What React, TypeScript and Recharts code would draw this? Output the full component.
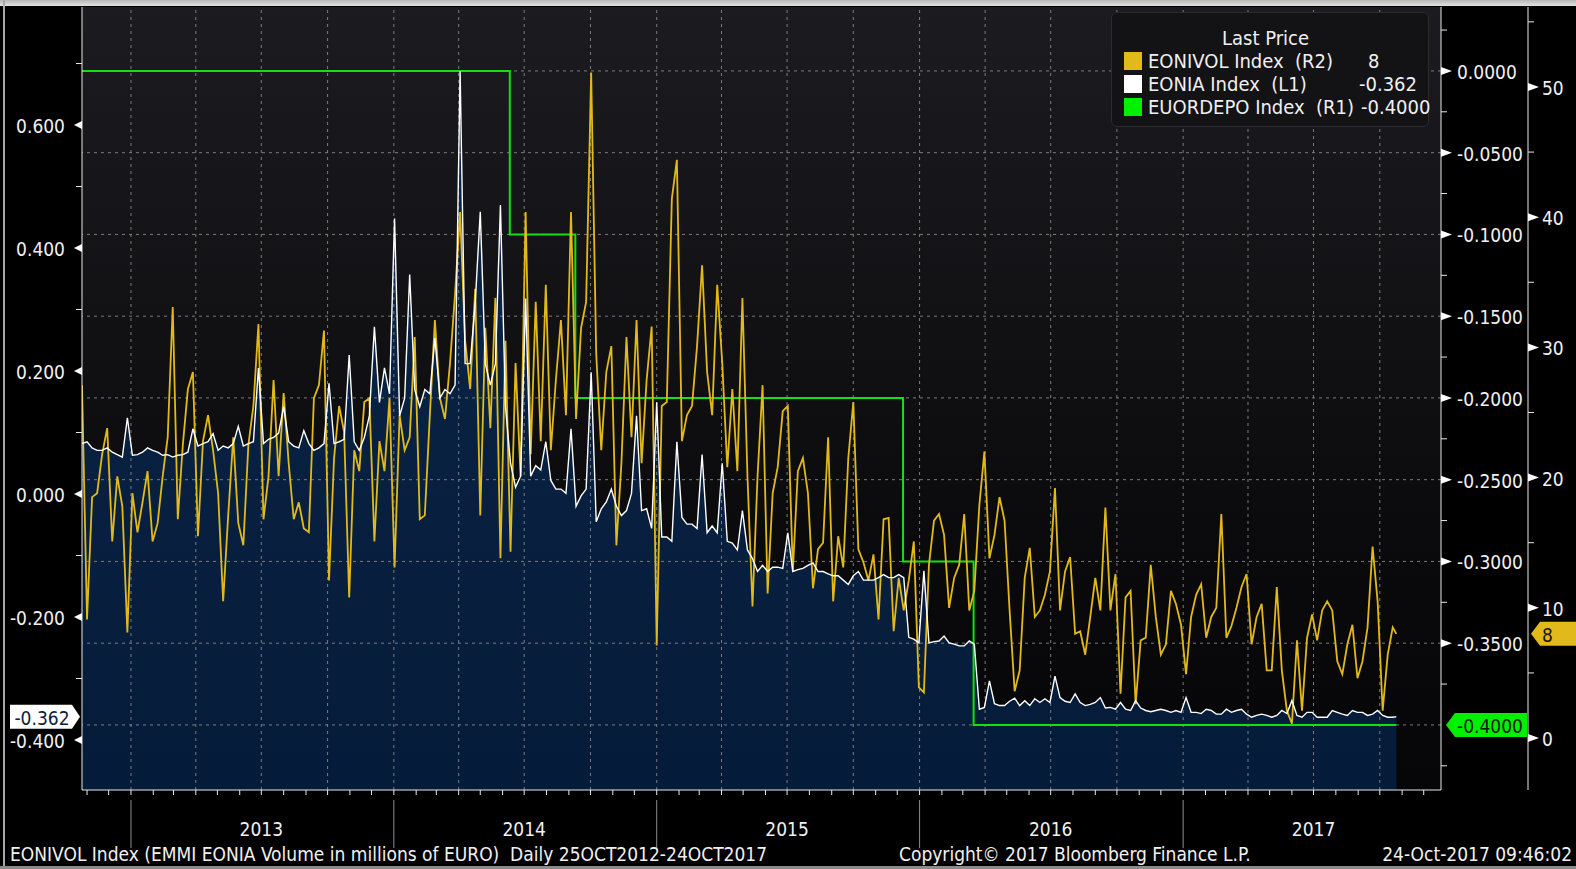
import React from "react";
import { Area, ComposedChart, CartesianGrid, Line, ReferenceLine, XAxis, YAxis } from "recharts";

const DAY = 86400000;
const START = Date.UTC(2012, 9, 25);
const END = Date.UTC(2017, 9, 24);
const X_MAX = Date.UTC(2017, 11, 25);

// weekly readings, 25 Oct 2012 .. 24 Oct 2017 (last entry = 24 Oct)
const eoniaValues = [
  0.082, 0.085, 0.075, 0.071, 0.071, 0.075, 0.068, 0.064, 0.06, 0.124,
  0.063, 0.064, 0.068, 0.075, 0.071, 0.068, 0.063, 0.064, 0.06, 0.063,
  0.064, 0.068, 0.106, 0.078, 0.082, 0.085, 0.098, 0.071, 0.078, 0.075,
  0.082, 0.11, 0.078, 0.082, 0.085, 0.205, 0.082, 0.089, 0.092, 0.099,
  0.142, 0.085, 0.078, 0.075, 0.103, 0.082, 0.071, 0.075, 0.082, 0.18,
  0.082, 0.085, 0.089, 0.226,
  0.085, 0.071, 0.092, 0.127, 0.272, 0.149, 0.205, 0.163, 0.448, 0.127,
  0.156, 0.357, 0.17, 0.142, 0.17, 0.163, 0.254, 0.156, 0.17, 0.163,
  0.177, 0.688, 0.212, 0.212, 0.311, 0.459, 0.212, 0.177, 0.212, 0.47,
  0.142, 0.05, 0.011, 0.029, 0.318, 0.029, 0.046, 0.039, 0.085, 0.022,
  0.008, 0.008, 0.001, 0.106, -0.02, -0.003, 0.008, 0.198, -0.045, -0.024,
  -0.013, 0.008,
  -0.02, -0.035, -0.027, 0.001, 0.127, -0.027, -0.024, -0.056, 0.149, -0.07,
  -0.07, -0.077, 0.085, -0.038, -0.049, -0.049, -0.056, 0.064, -0.063, -0.052,
  -0.063, 0.05, -0.077, -0.08, -0.091, -0.027, -0.091, -0.105, -0.126, -0.116,
  -0.126, -0.119, -0.119, -0.121, -0.063, -0.126, -0.123, -0.121, -0.116, -0.112,
  -0.126, -0.126, -0.13, -0.133, -0.133, -0.14, -0.147, -0.133, -0.126, -0.14,
  -0.14, -0.14,
  -0.136, -0.131, -0.136, -0.136, -0.131, -0.136, -0.233, -0.236, -0.242, -0.125,
  -0.242, -0.24, -0.239, -0.231, -0.242, -0.244, -0.247, -0.247, -0.239, -0.244,
  -0.35, -0.347, -0.304, -0.341, -0.344, -0.344, -0.337, -0.332, -0.344, -0.336,
  -0.344, -0.333, -0.339, -0.333, -0.339, -0.296, -0.331, -0.337, -0.339, -0.325,
  -0.339, -0.344, -0.342, -0.339, -0.331, -0.348, -0.347, -0.35, -0.339, -0.35,
  -0.352,
  -0.336, -0.348, -0.352, -0.354, -0.352, -0.35, -0.352, -0.355, -0.352, -0.355,
  -0.331, -0.355, -0.355, -0.357, -0.35, -0.352, -0.358, -0.358, -0.35, -0.355,
  -0.352, -0.35, -0.358, -0.363, -0.36, -0.358, -0.36, -0.363, -0.36, -0.352,
  -0.357, -0.336, -0.36, -0.363, -0.355, -0.355, -0.363, -0.363, -0.363, -0.352,
  -0.355, -0.358, -0.36, -0.352, -0.355, -0.355, -0.36, -0.358, -0.352, -0.36,
  -0.363, -0.363,
  -0.362,
];

const eonivolValues = [
  27.1, 9.1, 18.5, 18.8, 21.8, 23.8, 15.1, 20.1, 17.8, 8.1,
  18.8, 15.8, 18.1, 20.5, 15.1, 16.5, 20.1, 23.1, 33.1, 16.8,
  22.5, 26.8, 28.1, 15.5, 22.8, 24.8, 22.1, 18.8, 10.5, 17.1,
  23.1, 16.5, 14.8, 22.5, 25.5, 31.8, 16.8, 20.1, 27.5, 20.1,
  26.5, 21.1, 16.8, 18.1, 16.1, 15.8, 26.1, 27.1, 31.3, 12.1,
  21.5, 25.5, 23.5, 10.8,
  22.1, 20.5, 25.8, 26.1, 15.1, 22.8, 20.5, 26.1, 13.1, 24.8,
  22.1, 23.1, 30.8, 16.8, 17.1, 24.8, 32.1, 26.1, 24.5, 28.8,
  34.1, 40.4, 30.5, 26.8, 34.5, 17.1, 31.5, 23.8, 33.8, 13.8,
  30.5, 14.3, 28.8, 20.1, 40.4, 21.8, 33.5, 22.8, 34.8, 22.1,
  27.5, 32.1, 24.8, 40.4, 24.5, 31.5, 33.5, 51.1, 29.5, 22.1,
  28.1, 30.1,
  14.8, 21.1, 30.8, 23.1, 32.1, 21.1, 27.5, 31.6, 7.1, 25.5,
  25.8, 41.4, 44.4, 22.8, 24.8, 25.5, 30.1, 36.3, 28.1, 24.8,
  34.8, 28.8, 20.8, 26.8, 20.5, 33.8, 20.1, 10.1, 20.1, 27.1,
  11.1, 18.8, 20.8, 25.1, 25.5, 12.8, 20.5, 21.5, 18.8, 11.5,
  14.5, 15.0, 23.1, 10.5, 15.5, 13.1, 21.5, 25.8, 14.5, 13.5,
  12.1, 14.1,
  9.1, 16.8, 16.9, 8.2, 12.3, 9.8, 12.1, 15.1, 3.9, 3.5,
  13.3, 16.7, 17.2, 15.6, 10.0, 12.3, 13.3, 17.2, 9.8, 11.3,
  17.9, 22.0, 13.8, 15.6, 18.5, 16.7, 9.8, 3.6, 5.2, 12.3,
  14.6, 9.3, 9.8, 11.0, 12.8, 19.2, 9.8, 12.8, 13.9, 8.0,
  8.2, 6.4, 9.3, 12.3, 9.8, 17.7, 9.8, 12.6, 3.4, 10.8,
  11.3,
  2.6, 7.5, 7.7, 13.3, 9.3, 6.4, 7.2, 11.3, 10.3, 8.7,
  4.9, 9.3, 11.0, 11.8, 7.7, 9.3, 10.0, 17.2, 7.7, 8.6,
  10.0, 11.6, 12.6, 7.2, 9.3, 10.3, 5.2, 5.2, 11.6, 5.2,
  2.1, 1.1, 7.5, 2.1, 7.7, 9.5, 7.5, 9.8, 10.5, 9.8,
  5.9, 4.9, 7.2, 8.7, 4.6, 5.9, 8.5, 14.7, 10.5, 2.1,
  6.4, 8.5,
  8,
];

const depoDates = ["2012-10-25", "2014-06-11", "2014-09-10", "2015-12-09", "2016-03-16", "2017-10-24"];
const depoValues = [0, -0.1, -0.2, -0.3, -0.4, -0.4];

const yearLabels = ["2013", "2014", "2015", "2016", "2017"];
const leftMajor = [0.6, 0.4, 0.2, 0, -0.2, -0.4];
const leftMinor = [0.7, 0.5, 0.3, 0.1, -0.1, -0.3];
const depoMajor = [0, -0.05, -0.1, -0.15, -0.2, -0.25, -0.3, -0.35, -0.4];
const depoMinor = [0.025, -0.025, -0.075, -0.125, -0.175, -0.225, -0.275, -0.325, -0.375, -0.425];
const volMajor = [0, 10, 20, 30, 40, 50];
const volMinor = [5, 15, 25, 35, 45, 55];

const LAST_EONIA = -0.362;
const LAST_DEPO = -0.4;
const LAST_VOL = 8;

const YELLOW = "#e2b91b";
const GREEN = "#12e012";
const FONT = "'Liberation Sans Narrow', 'DejaVu Sans Condensed', 'Arial Narrow', sans-serif";
const TXT = "#f0f0f0";

const data = eoniaValues.map((v, i) => ({
  t: i === eoniaValues.length - 1 ? END : START + i * 7 * DAY,
  eonia: v,
  eonivol: eonivolValues[i],
}));

const depoData = depoDates.map((d, i) => ({ t: Date.parse(d + "T00:00:00Z"), depo: depoValues[i] }));

const monthTicks: number[] = [];
for (let y = 2012; y <= 2017; y++) {
  for (let m = 0; m < 12; m++) {
    const t = Date.UTC(y, m, 1);
    if (t > START && t < X_MAX) monthTicks.push(t);
  }
}
const quarterTicks = monthTicks.filter((t) => new Date(t).getUTCMonth() % 3 === 0);

const near = (a: number, b: number) => Math.abs(a - b) < 1e-7;
const has = (list: number[], v: number) => list.some((m) => near(m, v));

const textStyle = { fontFamily: FONT, fontSize: 19, fill: TXT };

function LeftTick(props: any) {
  const { x, y, payload } = props;
  const v = payload.value as number;
  if (near(v, LAST_EONIA)) {
    return (
      <g>
        <path d={`M${x - 72} ${y - 12} H${x - 10} L${x - 2} ${y} L${x - 10} ${y + 12} H${x - 72} Z`} fill="#ffffff" />
        <text x={x - 40} y={y + 1} textAnchor="middle" dominantBaseline="central" {...textStyle} fill="#10203c">
          {v.toFixed(3)}
        </text>
      </g>
    );
  }
  if (has(leftMajor, v)) {
    return (
      <g>
        <path d={`M${x} ${y - 4} L${x} ${y + 4} L${x - 8} ${y} Z`} fill="#ffffff" />
        <text x={x - 17} y={y + 1} textAnchor="end" dominantBaseline="central" {...textStyle}>
          {v.toFixed(3)}
        </text>
      </g>
    );
  }
  return <line x1={x} x2={x - 6} y1={y} y2={y} stroke="#e8e8e8" />;
}

function DepoTick(props: any) {
  const { x, y, payload } = props;
  const v = payload.value as number;
  if (near(v, LAST_DEPO)) {
    return (
      <g>
        <path d={`M${x + 5} ${y} L${x + 14} ${y - 12} H${x + 86} V${y + 12} H${x + 14} Z`} fill="#00f000" />
        <text x={x + 16} y={y + 1} dominantBaseline="central" {...textStyle} fill="#062006">
          {v.toFixed(4)}
        </text>
      </g>
    );
  }
  if (has(depoMajor, v)) {
    return (
      <g>
        <path d={`M${x} ${y - 4} L${x} ${y + 4} L${x + 11} ${y} Z`} fill="#ffffff" />
        <text x={x + 16} y={y + 1} dominantBaseline="central" {...textStyle}>
          {v.toFixed(4)}
        </text>
      </g>
    );
  }
  return <line x1={x} x2={x + 6} y1={y} y2={y} stroke="#e8e8e8" />;
}

function VolTick(props: any) {
  const { x, y, payload } = props;
  const v = payload.value as number;
  if (near(v, LAST_VOL)) {
    return (
      <g>
        <path d={`M${x + 3} ${y} L${x + 12} ${y - 12} H${x + 48} V${y + 12} H${x + 12} Z`} fill={YELLOW} />
        <text x={x + 14} y={y + 1} dominantBaseline="central" {...textStyle} fill="#1a1400">
          {v}
        </text>
      </g>
    );
  }
  if (has(volMajor, v)) {
    return (
      <g>
        <path d={`M${x} ${y - 4} L${x} ${y + 4} L${x + 11} ${y} Z`} fill="#ffffff" />
        <text x={x + 14} y={y + 1} dominantBaseline="central" {...textStyle}>
          {v}
        </text>
      </g>
    );
  }
  return <line x1={x} x2={x + 6} y1={y} y2={y} stroke="#e8e8e8" />;
}

function MonthTick(props: any) {
  const { x, y, payload } = props;
  const d = new Date(payload.value);
  const m = d.getUTCMonth();
  const label = yearLabels[d.getUTCFullYear() - 2013];
  return (
    <g>
      <line x1={x} x2={x} y1={y} y2={y + 5} stroke="#e8e8e8" />
      {m === 0 && <line x1={x} x2={x} y1={y + 10} y2={y + 58} stroke="#8c8c8c" />}
      {m === 6 && label && (
        <text x={x} y={y + 39} textAnchor="middle" dominantBaseline="central" {...textStyle}>
          {label}
        </text>
      )}
    </g>
  );
}

const footStyle: React.CSSProperties = {
  position: "absolute",
  top: 843,
  fontFamily: FONT,
  fontSize: 19,
  color: TXT,
  whiteSpace: "pre",
  lineHeight: "22px",
};

const legendRows = [
  { color: YELLOW, name: "EONIVOL Index  (R2)", value: String(LAST_VOL), left: 256 },
  { color: "#ffffff", name: "EONIA Index  (L1)", value: LAST_EONIA.toFixed(3), left: 247 },
  { color: "#00f000", name: "EUORDEPO Index  (R1)", value: LAST_DEPO.toFixed(4), left: 249 },
];

export default function App() {
  return (
    <div style={{ position: "relative", width: 1576, height: 869, background: "#000", overflow: "hidden" }}>
      <style>{"body{margin:0;background:#000}"}</style>
      <div style={{ position: "absolute", left: 0, top: 0, width: 1576, height: 6, background: "linear-gradient(#b8b8b8,#e2e2e2)" }} />
      <div style={{ position: "absolute", left: 3, top: 0, width: 2, height: 869, background: "#a8a8a8" }} />
      <ComposedChart width={1576} height={869} data={data} margin={{ top: 7, right: 0, bottom: 0, left: 0 }}>
        <defs>
          <linearGradient id="plotBg" x1="0" y1="0" x2="0" y2="1">
            <stop offset="0%" stopColor="#1c1c20" />
            <stop offset="70%" stopColor="#0a0a0d" />
            <stop offset="100%" stopColor="#060608" />
          </linearGradient>
          <linearGradient id="navyFill" x1="0" y1="0" x2="0" y2="1">
            <stop offset="0%" stopColor="#0d2748" />
            <stop offset="100%" stopColor="#051b3a" />
          </linearGradient>
        </defs>
        <CartesianGrid yAxisId="R1" horizontal={false} vertical={false} fill="url(#plotBg)" />
        <XAxis
          dataKey="t"
          type="number"
          domain={[START, X_MAX]}
          allowDataOverflow
          ticks={monthTicks}
          interval={0}
          height={79}
          tickSize={0}
          tickMargin={0}
          tickLine={false}
          axisLine={{ stroke: "#e8e8e8" }}
          tick={<MonthTick />}
        />
        <YAxis
          yAxisId="L1"
          orientation="left"
          width={82}
          type="number"
          domain={[-0.4813, 0.7919]}
          allowDataOverflow
          ticks={[...leftMajor, ...leftMinor, LAST_EONIA]}
          interval={0}
          tickSize={0}
          tickMargin={0}
          tickLine={false}
          axisLine={{ stroke: "#e8e8e8" }}
          tick={<LeftTick />}
        />
        <YAxis
          yAxisId="R1"
          orientation="right"
          width={87}
          type="number"
          domain={[-0.4398, 0.0391]}
          allowDataOverflow
          ticks={[...depoMajor, ...depoMinor]}
          interval={0}
          tickSize={0}
          tickMargin={0}
          tickLine={false}
          axisLine={{ stroke: "#e8e8e8" }}
          tick={<DepoTick />}
        />
        <YAxis
          yAxisId="R2"
          orientation="right"
          width={48}
          type="number"
          domain={[-3.99, 56.14]}
          allowDataOverflow
          ticks={[...volMajor, ...volMinor, LAST_VOL]}
          interval={0}
          tickSize={0}
          tickMargin={0}
          tickLine={false}
          axisLine={{ stroke: "#e8e8e8" }}
          tick={<VolTick />}
        />
        <Area
          yAxisId="L1"
          dataKey="eonia"
          type="linear"
          baseValue="dataMin"
          stroke="none"
          fill="url(#navyFill)"
          fillOpacity={1}
          isAnimationActive={false}
        />
        {depoMajor.map((v) => (
          <ReferenceLine key={"h" + v} yAxisId="R1" y={v} stroke="#7c7c7c" strokeDasharray="3 4" />
        ))}
        {quarterTicks.map((t) => (
          <ReferenceLine key={"v" + t} yAxisId="R1" x={t} stroke="#7c7c7c" strokeDasharray="3 4" />
        ))}
        <Line
          yAxisId="R1"
          data={depoData}
          dataKey="depo"
          type="stepAfter"
          stroke={GREEN}
          strokeWidth={2}
          dot={false}
          isAnimationActive={false}
        />
        <Line
          yAxisId="R2"
          dataKey="eonivol"
          type="linear"
          stroke={YELLOW}
          strokeWidth={1.8}
          dot={false}
          isAnimationActive={false}
        />
        <Line
          yAxisId="L1"
          dataKey="eonia"
          type="linear"
          stroke="#ffffff"
          strokeWidth={1.4}
          dot={false}
          isAnimationActive={false}
        />
      </ComposedChart>

      <div
        style={{
          position: "absolute",
          left: 1111,
          top: 12,
          width: 318,
          height: 115,
          boxSizing: "border-box",
          background: "#131316",
          border: "1px solid #2c2c30",
          borderRadius: 6,
          fontFamily: FONT,
          fontSize: 20,
          color: TXT,
        }}
      >
        <div style={{ position: "absolute", left: 110, top: 13, lineHeight: "24px" }}>Last Price</div>
        {legendRows.map((r, i) => (
          <div key={r.name} style={{ position: "absolute", left: 0, top: 36 + i * 23, width: "100%", height: 23 }}>
            <div style={{ position: "absolute", left: 12, top: 3, width: 18, height: 18, background: r.color }} />
            <div style={{ position: "absolute", left: 36, top: 0, lineHeight: "24px", whiteSpace: "pre" }}>{r.name}</div>
            <div style={{ position: "absolute", left: r.left, top: 0, lineHeight: "24px" }}>{r.value}</div>
          </div>
        ))}
      </div>

      <div style={{ ...footStyle, left: 10 }}>
        EONIVOL Index (EMMI EONIA Volume in millions of EURO)  Daily 25OCT2012-24OCT2017
      </div>
      <div style={{ ...footStyle, left: 899 }}>Copyright© 2017 Bloomberg Finance L.P.</div>
      <div style={{ ...footStyle, right: 4 }}>24-Oct-2017 09:46:02</div>
      <div style={{ position: "absolute", left: 0, top: 866, width: 1576, height: 3, background: "#8a8a8a" }} />
    </div>
  );
}
